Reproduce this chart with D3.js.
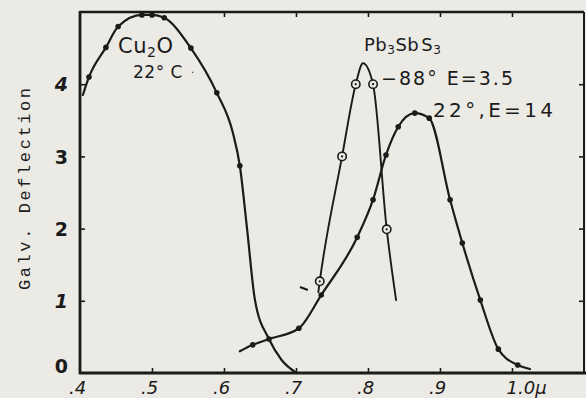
<!DOCTYPE html>
<html><head><meta charset="utf-8">
<script src="https://cdn.jsdelivr.net/npm/d3@7"></script>
<style>
html,body{margin:0;padding:0;background:#eceae5;}
svg{display:block;}
text{fill:#1b1b1b;}
</style></head>
<body>
<svg id="c" width="586" height="398"></svg>
<script>
// ---- data (wavelength in microns, galvanometer deflection) ----
const xTicks = [0.4, 0.5, 0.6, 0.7, 0.8, 0.9, 1.0];
const xTickLabels = [".4", ".5", ".6", ".7", ".8", ".9", "1.0\u03bc"];
const yTicks = [0, 1, 2, 3, 4];
const yTickLabels = ["0", "1", "2", "3", "4"];

// Cu2O 22°C (filled markers where marked = 1)
const cu2oX =      [0.404, 0.4125, 0.436, 0.453, 0.486, 0.500, 0.517, 0.554, 0.590, 0.6125, 0.622, 0.632, 0.643, 0.6625, 0.680, 0.701];
const cu2oY =      [3.85,  4.10,   4.51,  4.80,  4.96,  4.96,  4.92,  4.50,  3.88,  3.32,   2.87,  2.00,  1.01,  0.47,   0.18,  0.00];
const cu2oMarked = [0,     1,      1,     1,     1,     1,     1,     1,     1,     0,      1,     0,     0,     0,      0,     0];

// Pb3SbS3 at 22°, E=14 (filled markers)
const pb22X =      [0.622, 0.640, 0.6625, 0.704, 0.735, 0.785, 0.807, 0.825, 0.842, 0.865, 0.885, 0.914, 0.931, 0.956, 0.981, 1.008, 1.025];
const pb22Y =      [0.30,  0.39,  0.47,   0.62,  1.08,  1.88,  2.40,  3.02,  3.41,  3.60,  3.53,  2.40,  1.80,  1.01,  0.33,  0.11,  0.055];
const pb22Marked = [0,     1,     1,      1,     1,     1,     1,     1,     1,     1,     1,     1,     1,     1,     1,     1,     0];

// Pb3SbS3 at -88°, E=3.5 (open circle markers)
const pbColdX =      [0.731, 0.733, 0.764, 0.783, 0.793, 0.807, 0.826, 0.839];
const pbColdY =      [1.12,  1.27,  3.00,  4.00,  4.29,  4.00,  1.99,  1.01];
const pbColdMarked = [0,     1,     1,     1,     0,     1,     1,     0];

// stray pen mark on the original sheet
const strayX = [0.7055, 0.7165];
const strayY = [1.19, 1.15];

const W = 586, H = 398;
const svg = d3.select("#c");

const x = d3.scaleLinear().domain([0.4, 1.1]).range([80, 584]);
const y = d3.scaleLinear().domain([0, 5]).range([373, 12]);
const ink = "#1b1b1b";

// frame
svg.append("line").attr("x1", x(0.4)).attr("x2", 584).attr("y1", y(5)).attr("y2", y(5))
  .attr("stroke", ink).attr("stroke-width", 2.6);
svg.append("line").attr("x1", 584).attr("x2", 584).attr("y1", y(5)).attr("y2", y(0))
  .attr("stroke", ink).attr("stroke-width", 2);
svg.append("line").attr("x1", x(0.4)).attr("x2", x(0.4)).attr("y1", y(5) - 1).attr("y2", y(0) + 1)
  .attr("stroke", ink).attr("stroke-width", 2.8);

// bottom axis (inward ticks) with labels
const xAxis = d3.axisBottom(x).tickValues(xTicks).tickSize(-5).tickPadding(0)
  .tickFormat((d, i) => xTickLabels[i]);
const gx = svg.append("g").attr("transform", `translate(0,${y(0)})`).call(xAxis);
gx.select(".domain").remove();
gx.append("line").attr("x1", x(0.4) - 1).attr("x2", W).attr("y1", 0).attr("y2", 0)
  .attr("stroke", ink).attr("stroke-width", 3);
gx.selectAll(".tick line").attr("stroke", ink).attr("stroke-width", 1.6)
  .attr("display", d => d === 0.4 ? "none" : null);
gx.selectAll(".tick text")
  .attr("font-family", "DejaVu Sans, sans-serif").attr("font-size", 18).attr("font-style", "italic")
  .attr("fill", ink).attr("y", 21).attr("dy", 0)
  .attr("text-anchor", (d, i) => i === xTickLabels.length - 1 ? "start" : "middle")
  .attr("dx", (d, i) => i === xTickLabels.length - 1 ? -6 : -3);

// top ticks
const xTop = d3.axisTop(x).tickValues(xTicks.slice(1)).tickSize(-5).tickFormat("");
const gt = svg.append("g").attr("transform", `translate(0,${y(5)})`).call(xTop);
gt.select(".domain").remove();
gt.selectAll(".tick line").attr("stroke", ink).attr("stroke-width", 1.6);

// left axis
const yAxis = d3.axisLeft(y).tickValues(yTicks).tickSize(-5).tickPadding(12)
  .tickFormat((d, i) => yTickLabels[i]);
const gy = svg.append("g").attr("transform", `translate(${x(0.4)},0)`).call(yAxis);
gy.select(".domain").remove();
gy.selectAll(".tick line").attr("stroke", ink).attr("stroke-width", 1.6)
  .attr("display", d => d === 0 ? "none" : null);
gy.selectAll(".tick text")
  .attr("font-family", "DejaVu Sans, sans-serif").attr("font-size", 19).attr("font-weight", "bold")
  .attr("fill", ink)
  .attr("font-style", (d) => (d === 1 || d === 4) ? "italic" : "normal")
  .attr("dy", (d) => d === 0 ? "-0.05em" : "0.35em");

// right ticks
const yRight = d3.axisRight(y).tickValues(yTicks.slice(1)).tickSize(-5).tickFormat("");
const gr = svg.append("g").attr("transform", `translate(584,0)`).call(yRight);
gr.select(".domain").remove();
gr.selectAll(".tick line").attr("stroke", ink).attr("stroke-width", 1.6);

// y axis title
svg.append("text")
  .attr("transform", "translate(30,189) rotate(-90)")
  .attr("text-anchor", "middle")
  .attr("font-family", "Liberation Mono, DejaVu Sans Mono, monospace")
  .attr("font-size", 17)
  .attr("textLength", 202).attr("lengthAdjust", "spacing")
  .text("Galv. Deflection");

// curves
function pts(xs, ys) { return xs.map((v, i) => [v, ys[i]]); }
const line = d3.line().x(d => x(d[0])).y(d => y(d[1])).curve(d3.curveMonotoneX);

const series = [
  {xs: cu2oX, ys: cu2oY, m: cu2oMarked, type: "filled", w: 2.2},
  {xs: pb22X, ys: pb22Y, m: pb22Marked, type: "filled", w: 2.2},
  {xs: pbColdX, ys: pbColdY, m: pbColdMarked, type: "open", w: 1.9}
];

series.forEach(s => {
  const p = pts(s.xs, s.ys);
  svg.append("path").attr("d", line(p)).attr("fill", "none")
    .attr("stroke", ink).attr("stroke-width", s.w).attr("stroke-linecap", "round");
  const mk = p.filter((d, i) => s.m[i]);
  if (s.type === "filled") {
    svg.selectAll(null).data(mk).enter().append("circle")
      .attr("cx", d => x(d[0])).attr("cy", d => y(d[1])).attr("r", 2.8).attr("fill", ink);
  } else {
    svg.selectAll(null).data(mk).enter().append("circle")
      .attr("cx", d => x(d[0])).attr("cy", d => y(d[1])).attr("r", 4.2)
      .attr("fill", "#eceae5").attr("stroke", ink).attr("stroke-width", 1.6);
    svg.selectAll(null).data(mk).enter().append("circle")
      .attr("cx", d => x(d[0])).attr("cy", d => y(d[1])).attr("r", 1.1).attr("fill", ink);
  }
});

// stray mark
svg.append("line")
  .attr("x1", x(strayX[0])).attr("y1", y(strayY[0])).attr("x2", x(strayX[1])).attr("y2", y(strayY[1]))
  .attr("stroke", ink).attr("stroke-width", 2.2);

// annotations
const font = "DejaVu Sans, sans-serif";
const cu = svg.append("text").attr("x", 118).attr("y", 53)
  .attr("font-family", font).attr("font-size", 21).attr("letter-spacing", 0.5);
cu.append("tspan").text("Cu");
cu.append("tspan").attr("font-size", 14).attr("dy", 4).text("2");
cu.append("tspan").attr("dy", -4).text("O");

svg.append("text").attr("x", 133).attr("y", 78)
  .attr("font-family", font).attr("font-size", 17).attr("letter-spacing", 0.5)
  .text("22\u00b0 C");
svg.append("text").attr("x", 191).attr("y", 73)
  .attr("font-family", font).attr("font-size", 10).text(".");

const pb = svg.append("text").attr("x", 364).attr("y", 51)
  .attr("font-family", font).attr("font-size", 18).attr("letter-spacing", 0.5);
pb.append("tspan").text("Pb");
pb.append("tspan").attr("font-size", 12).attr("dy", 3).text("3");
pb.append("tspan").attr("dy", -3).text("Sb");
pb.append("tspan").attr("dx", 2).text("S");
pb.append("tspan").attr("font-size", 12).attr("dy", 3).text("3");

svg.append("text").attr("x", 381).attr("y", 85)
  .attr("font-family", font).attr("font-size", 19)
  .attr("textLength", 132).attr("lengthAdjust", "spacing")
  .text("\u221288\u00b0 E=3.5");

svg.append("text").attr("x", 433).attr("y", 117)
  .attr("font-family", font).attr("font-size", 20)
  .attr("textLength", 120).attr("lengthAdjust", "spacing")
  .text("22\u00b0,E=14");
</script>
</body></html>
